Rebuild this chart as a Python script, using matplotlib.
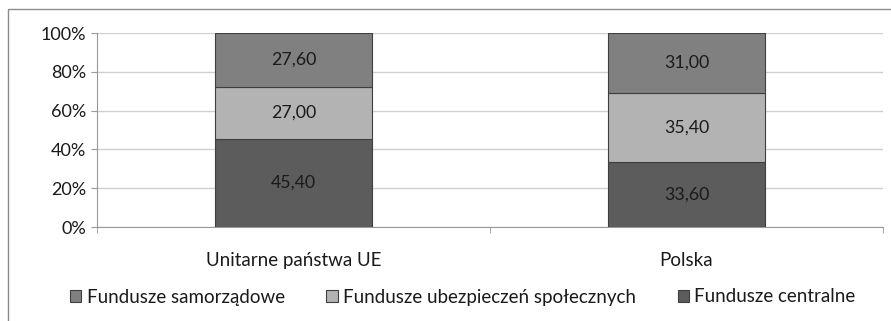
import matplotlib.pyplot as plt
from matplotlib.patches import Rectangle
from matplotlib.ticker import FuncFormatter

plt.rcParams['font.family'] = ['Lato', 'DejaVu Sans']

# dane
kategorie = ['Unitarne państwa UE', 'Polska']
centralne = [45.40, 33.60]
ubezpieczen = [27.00, 35.40]
samorzadowe = [27.60, 31.00]
serie = ['Fundusze samorządowe', 'Fundusze ubezpieczeń społecznych', 'Fundusze centralne']

kol_central = '#5c5c5c'
kol_ubezp = '#b3b3b3'
kol_samorz = '#808080'

fig = plt.figure(figsize=(8.91, 3.21), dpi=100)
ax = fig.add_axes([97/891, (321-227)/321, (883-97)/891, (227-33)/321])

x = range(len(kategorie))
b1 = ax.bar(x, centralne, width=0.4, color=kol_central, edgecolor='#3f3f3f', linewidth=0.8, zorder=3)
b2 = ax.bar(x, ubezpieczen, width=0.4, bottom=centralne, color=kol_ubezp, edgecolor='#3f3f3f', linewidth=0.8, zorder=3)
dol = [c + u for c, u in zip(centralne, ubezpieczen)]
b3 = ax.bar(x, samorzadowe, width=0.4, bottom=dol, color=kol_samorz, edgecolor='#3f3f3f', linewidth=0.8, zorder=3)

# etykiety danych
for bars, vals in [(b1, centralne), (b2, ubezpieczen), (b3, samorzadowe)]:
    for rect, v in zip(bars, vals):
        ax.text(rect.get_x() + rect.get_width()/2, rect.get_y() + rect.get_height()/2,
                ('%.2f' % v).replace('.', ','), ha='center', va='center',
                fontsize=12.8, color='#1a1a1a', zorder=4)

ax.set_xlim(-0.5, 1.5)
ax.set_ylim(0, 100)
ax.set_yticks([0, 20, 40, 60, 80, 100])
ax.yaxis.set_major_formatter(FuncFormatter(lambda v, p: '%d%%' % v))
ax.grid(axis='y', color='#d0d0d0', linewidth=1, zorder=0)
ax.set_axisbelow(True)

ax.set_xticks(list(x))
ax.set_xticklabels(kategorie)
ax.set_xticks([-0.5, 0.5, 1.5], minor=True)
ax.tick_params(axis='x', which='major', length=0, pad=18, labelsize=13.5, labelcolor='#1a1a1a')
ax.tick_params(axis='x', which='minor', length=4, color='#999999')
ax.tick_params(axis='y', length=4, color='#999999', labelsize=13, labelcolor='#1a1a1a', pad=4)

for s in ['top', 'right']:
    ax.spines[s].set_visible(False)
ax.spines['left'].set_color('#999999')
ax.spines['bottom'].set_color('#999999')

# ramka wykresu
fig.patches.append(Rectangle((8/891, -0.1), 1.2, (321-9)/321 + 0.1, transform=fig.transFigure,
                             fill=False, edgecolor='#8c8c8c', linewidth=1))

leg = fig.legend([b3, b2, b1], serie, loc='center', bbox_to_anchor=(463/891, (321-297)/321),
                 ncol=3, frameon=False, fontsize=13.5, handlelength=0.6, handleheight=0.6,
                 handletextpad=0.3, columnspacing=2.2, labelcolor='#1a1a1a')

fig.savefig('out.png', dpi=100)
